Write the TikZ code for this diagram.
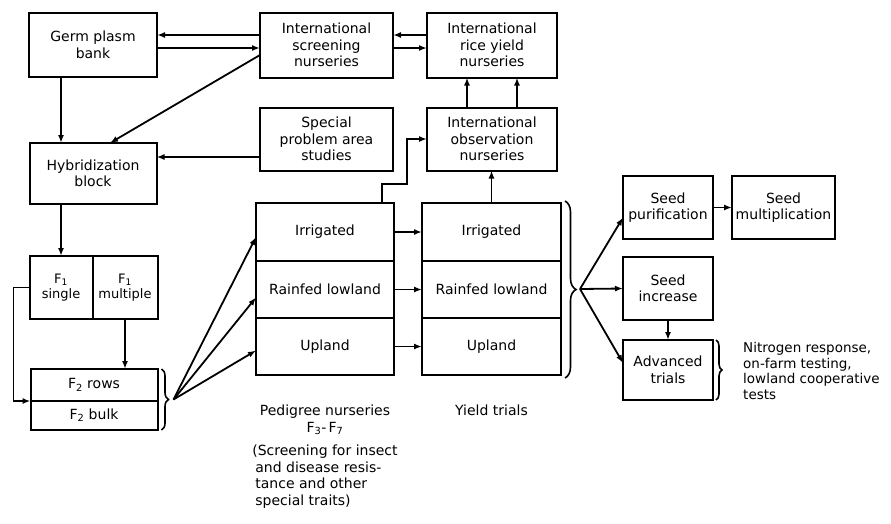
\documentclass[tikz,border=0pt]{standalone}
\usepackage{fontspec}
\setmainfont{DejaVu Sans}
\usepackage{tikz}
\usetikzlibrary{arrows.meta,positioning,calc,decorations.pathreplacing}
\newcommand{\diagfont}{\fontsize{14}{16.5}\selectfont}
\newcommand{\cellfont}{\fontsize{13}{15.5}\selectfont}
\newcommand{\notefont}{\fontsize{13.5}{15.5}\selectfont}
\tikzset{
  block/.style={draw,line width=2pt,align=center,font=\diagfont,inner sep=1pt,outer sep=0pt},
  dims/.style 2 args={minimum width=#1pt,minimum height=#2pt},
  flow/.style={-{Latex[length=8pt,width=6pt]},line width=1.8pt},
  bracket/.style={decorate,decoration={brace,amplitude=#1},line width=1.6pt},
  caption/.style={font=\diagfont,align=center,inner sep=0pt}
}

\begin{document}
\begin{tikzpicture}[x=1pt,y=-1pt,node distance=20pt]
  \useasboundingbox (0,0) rectangle (891,523);
  \node[block,dims={128}{64}] (germ) at (93,45) {Germ plasm\\bank};
  \node[block,dims={133}{65},right=103pt of germ] (screen) {International\\screening\\nurseries};
  \node[block,dims={130}{65},right=34pt of screen] (riceyld) {International\\rice yield\\nurseries};
  \node[block,dims={133}{63},below=30pt of screen] (special) {Special\\problem area\\studies};
  \node[block,dims={130}{63},below=30pt of riceyld] (observ) {International\\observation\\nurseries};
  \node[block,dims={127}{61},below=66pt of germ] (hybrid) {Hybridization\\block};
  \node[block,font=\cellfont,dims={63}{63},below right=52pt and 0pt of hybrid.south west] (f1s) {F\textsubscript{1}\\single};
  \node[block,font=\cellfont,dims={65}{63},right=0pt of f1s] (f1m) {F\textsubscript{1}\\multiple};
  \node[block,dims={127}{32},below right=50pt and 1pt of f1s.south west] (f2rows) {F\textsubscript{2} rows};
  \node[block,dims={127}{29},below=0pt of f2rows] (f2bulk) {F\textsubscript{2} bulk};
  \node[block,dims={138}{58},anchor=north west] (pirrig) at (256,203) {Irrigated};
  \node[block,dims={138}{57},below=0pt of pirrig] (prain) {Rainfed lowland};
  \node[block,dims={138}{57},below=0pt of prain] (pupland) {Upland};
  \node[block,dims={139}{58},right=28pt of pirrig] (yirrig) {Irrigated};
  \node[block,dims={139}{57},right=28pt of prain] (yrain) {Rainfed lowland};
  \node[block,dims={139}{57},right=28pt of pupland] (yupland) {Upland};
  \node[block,dims={90}{63},anchor=north west] (purif) at (623,176) {Seed\\purification};
  \node[block,dims={103}{63},right=19pt of purif] (mult) {Seed\\multiplication};
  \node[block,dims={90}{63},below=18pt of purif] (incr) {Seed\\increase};
  \node[block,dims={90}{60},below=20pt of incr] (adv) {Advanced\\trials};
  \node[caption,below=30pt of pupland] (pedlbl) {Pedigree nurseries\\F\textsubscript{3}-\,F\textsubscript{7}};
  \node[caption,anchor=north] (yldlbl) at (pedlbl.north -| yupland) {Yield trials};
  \node[caption,align=left,below=10pt of pedlbl] (screenlbl) {(Screening for insect\\\hspace*{3pt}and disease resis-\\\hspace*{3pt}tance and other\\\hspace*{3pt}special traits)};
  \node[caption,font=\notefont,align=left,anchor=west] (nitro) at (743,371) {Nitrogen response,\\on-farm testing,\\lowland cooperative\\tests};
  \draw[bracket=7pt] ([xshift=4pt]f2rows.north east) -- ([xshift=4pt]f2bulk.south east);
  \coordinate (f2tip) at ($(f2rows.north east)!0.5!(f2bulk.south east)+(16,0)$);
  \draw[bracket=11pt] ([xshift=4pt,yshift=2pt]yirrig.north east) -- ([xshift=4pt,yshift=-3pt]yupland.south east);
  \coordinate (ytip) at ($(yirrig.north east)!0.5!(yupland.south east)+(19,0)$);
  \draw[bracket=6pt] ([xshift=3pt]adv.north east) -- ([xshift=3pt]adv.south east);
  \draw[flow] ([yshift=10pt]screen.west) -- ([yshift=10pt]germ.east);
  \draw[flow] ([yshift=-3pt]germ.east) -- ([yshift=-3pt]screen.west);
  \draw[flow] ([yshift=10pt]riceyld.west) -- ([yshift=10pt]screen.east);
  \draw[flow] ([yshift=-3pt]screen.east) -- ([yshift=-3pt]riceyld.west);
  \draw[flow] ([yshift=-10pt]screen.west) -- ([xshift=17pt]hybrid.north);
  \draw[flow] ([xshift=-32pt]germ.south) -- ([xshift=-32pt]germ.south |- hybrid.north);
  \draw[flow] ([yshift=-18pt]special.west) -- ([yshift=-18pt]special.west -| hybrid.east);
  \draw[flow] ([xshift=-25pt]observ.north) -- ([xshift=-25pt]riceyld.south);
  \draw[flow] ([xshift=25pt]observ.north) -- ([xshift=25pt]riceyld.south);
  \draw[flow] (yirrig.north) -- (yirrig.north |- observ.south);
  \draw[flow] ([xshift=-12pt]pirrig.north east) -- ++(0,-19) -| ([xshift=-20pt]observ.west) -- (observ.west);
  \draw[flow] (hybrid.south -| f1s.north) -- (f1s.north);
  \draw[flow] (f1m.south) -- (f1m.south |- f2rows.north);
  \draw[flow] (f1s.west) -- ++(-16,0) |- (f2bulk.north west);
  \draw[flow] (f2tip) -- ([yshift=-5pt]pirrig.west);
  \draw[flow] (f2tip) -- ([yshift=-8pt]prain.west);
  \draw[flow] (f2tip) -- ([yshift=-4pt]pupland.west);
  \draw[flow] (pirrig) -- (yirrig);
  \draw[flow] (prain) -- (yrain);
  \draw[flow] (pupland) -- (yupland);
  \draw[flow] (ytip) -- ([yshift=-10pt]purif.west);
  \draw[flow] (ytip) -- (incr.west);
  \draw[flow] (ytip) -- ([yshift=7pt]adv.west);
  \draw[flow] (purif) -- (mult);
  \draw[flow] (incr) -- (adv);
\end{tikzpicture}
\end{document}
